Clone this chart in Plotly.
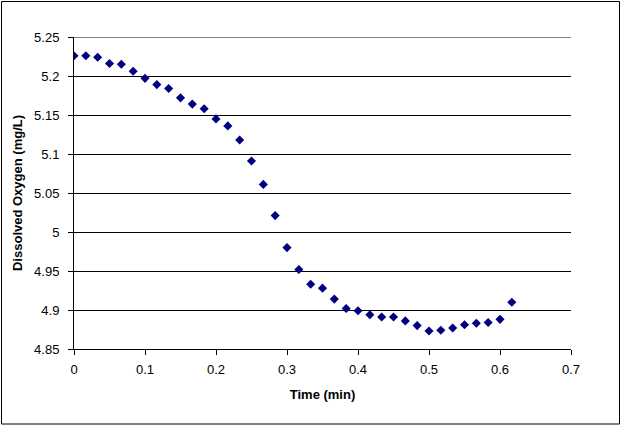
import plotly.graph_objects as go

# time in minutes, one reading per second
time_min = [i / 60 for i in range(38)]
dissolved_oxygen = [
    5.226, 5.226, 5.224, 5.216, 5.215, 5.206, 5.197, 5.189, 5.184, 5.172,
    5.164, 5.158, 5.145, 5.136, 5.118, 5.091, 5.061, 5.021, 4.980, 4.952,
    4.933, 4.928, 4.914, 4.902, 4.899, 4.894, 4.891, 4.891, 4.886, 4.880,
    4.873, 4.874, 4.877, 4.881, 4.883, 4.884, 4.888, 4.910,
]
x_ticks = [0, 0.1, 0.2, 0.3, 0.4, 0.5, 0.6, 0.7]
y_ticks = [4.85, 4.9, 4.95, 5.0, 5.05, 5.1, 5.15, 5.2, 5.25]

W, H = 628, 430
L, R, T, B = 74, 57, 37, 81
pw, ph = W - L - R, H - T - B

fig = go.Figure()
fig.add_trace(go.Scatter(
    x=time_min, y=dissolved_oxygen, mode="markers",
    marker=dict(symbol="diamond", size=7, color="#000080"),
    showlegend=False,
))

tick_font = dict(family="Liberation Sans, Arial", size=13, color="black")
fig.update_layout(
    width=W, height=H,
    margin=dict(l=L, r=R, t=T, b=B),
    paper_bgcolor="white", plot_bgcolor="white",
    font=tick_font,
    xaxis=dict(
        range=[0, 0.7], tickvals=x_ticks, ticktext=[f"{v:g}" for v in x_ticks],
        showgrid=False, zeroline=False, showline=True, linecolor="black", linewidth=1,
        ticks="outside", ticklen=5, tickcolor="black", ticklabelstandoff=3,
        title=dict(text="<b>Time (min)</b>", standoff=14, font=tick_font),
        automargin=False,
    ),
    yaxis=dict(
        range=[4.85, 5.25], tickvals=y_ticks, ticktext=[f"{v:g}" for v in y_ticks],
        showgrid=True, gridcolor="black", gridwidth=1, zeroline=False,
        showline=True, linecolor="black", linewidth=1,
        ticks="outside", ticklen=5, tickcolor="black", ticklabelstandoff=6,
        title=dict(text="<b>Dissolved Oxygen (mg/L)</b>", standoff=8, font=tick_font),
        automargin=False,
    ),
)

# top gridline (plotly drops the one at the range edge)
fig.add_shape(type="line", xref="paper", yref="y", x0=0, x1=1, y0=5.25, y1=5.25,
              line=dict(color="black", width=1))

# outer chart border
fig.add_shape(
    type="rect", xref="paper", yref="paper",
    x0=(1.5 - L) / pw, x1=(619.5 - L) / pw,
    y0=(T + ph - 424) / ph, y1=(T + ph - 1.5) / ph,
    line=dict(color="black", width=1), layer="below",
)

fig.write_html("out.html", config={"displayModeBar": False},
               post_script="document.body.style.margin = '0';")
